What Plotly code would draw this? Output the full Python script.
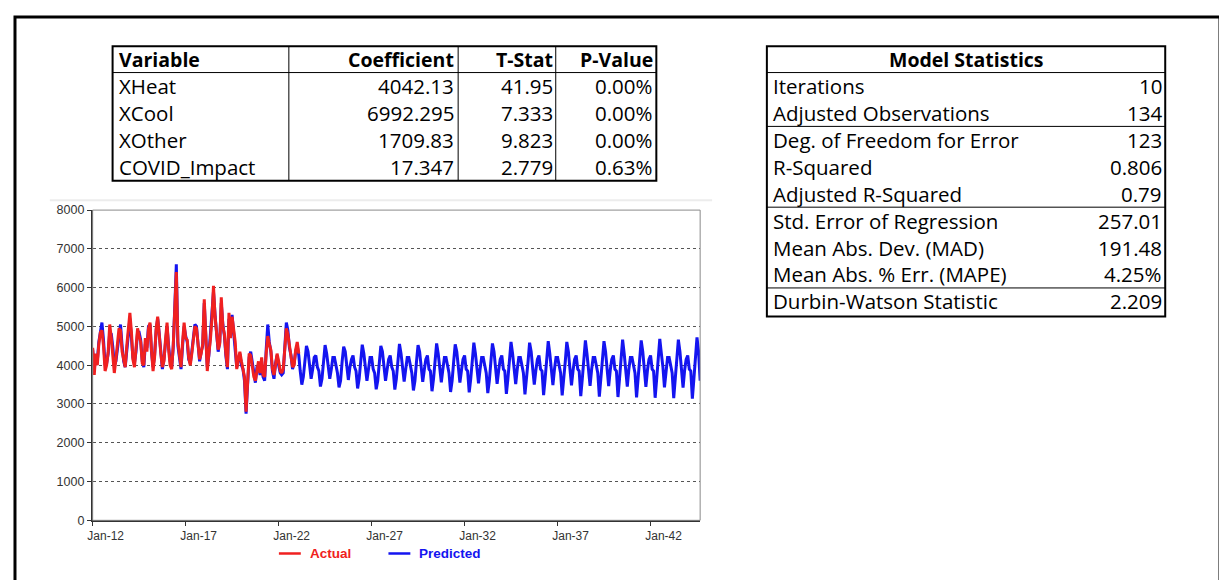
import pandas as pd
import plotly.graph_objects as go

# page body keeps an 8px margin, so the figure is that much smaller
PAGE_W, PAGE_H, BODY = 1227, 588, 8
W, H = PAGE_W - 2 * BODY, PAGE_H - 2 * BODY

# regression table
var_names = ["XHeat", "XCool", "XOther", "COVID_Impact"]
coefficients = ["4042.13", "6992.295", "1709.83", "17.347"]
t_stats = ["41.95", "7.333", "9.823", "2.779"]
p_values = ["0.00%", "0.00%", "0.00%", "0.63%"]

# model statistics table
stat_names = ["Iterations", "Adjusted Observations", "Deg. of Freedom for Error",
              "R-Squared", "Adjusted R-Squared", "Std. Error of Regression",
              "Mean Abs. Dev. (MAD)", "Mean Abs. % Err. (MAPE)", "Durbin-Watson Statistic"]
stat_values = ["10", "134", "123", "0.806", "0.79", "257.01", "191.48", "4.25%", "2.209"]

# monthly actuals, Jan-2012 .. Feb-2023
actual = [
    4450, 3750, 4300, 4000, 4550, 4850, 4900, 4500, 3850, 4000, 4350, 5050,
    4700, 4300, 3800, 4150, 4500, 4950, 4900, 4350, 4150, 3950, 4500, 4900,
    5350, 4850, 4150, 3950, 4400, 4950, 4750, 4600, 4050, 4000, 4700, 4350,
    4950, 5100, 4400, 3850, 4200, 4950, 5250, 4700, 4300, 3950, 4100, 4650,
    5100, 4400, 4000, 3900, 4500, 5450, 6400, 4600, 4300, 3950, 4600, 5100,
    4700, 4650, 4200, 4000, 4300, 4750, 5000, 4950, 4500, 4150, 4300, 4550,
    5700, 4800, 3850, 4300, 4650, 5200, 6050, 5250, 4900, 4400, 4550, 5750,
    5000, 4800, 4300, 3950, 5350, 4700, 5250, 4900, 4600, 3900, 4200, 4350,
    4100, 3850, 3700, 2800, 3450, 4300, 4250, 4000, 3700, 3600, 3900, 4100,
    3800, 4200, 3750, 3700, 4300, 4750, 4550, 4400, 3900, 3750, 4000, 4300,
    4100, 3850, 3800, 3900, 4400, 4950, 4800, 4500, 4300, 3950, 4000, 4400,
    4600, 4300,
]

# in-sample fitted values, Jan-2012 .. Feb-2023
predicted_fit = [
    4400, 3900, 4200, 4100, 4600, 4900, 5100, 4650, 4000, 4050, 4300, 4850,
    4800, 4450, 4000, 4100, 4400, 4850, 5050, 4500, 4100, 3950, 4400, 4950,
    5200, 4700, 4200, 4050, 4350, 4850, 4850, 4650, 4100, 3950, 4550, 4450,
    5000, 5050, 4350, 3950, 4250, 4900, 5200, 4800, 4250, 3900, 4150, 4600,
    5000, 4500, 4100, 3950, 4450, 5500, 6600, 4500, 4250, 3900, 4500, 5000,
    4750, 4600, 4150, 4050, 4350, 4800, 5050, 5000, 4450, 4100, 4350, 4500,
    5600, 4900, 3950, 4250, 4750, 5300, 5900, 5300, 4800, 4350, 4600, 5600,
    5050, 4750, 4250, 3900, 5200, 4750, 5300, 4850, 4550, 3950, 4150, 4300,
    4000, 3900, 3600, 2750, 3500, 4200, 4350, 4100, 3750, 3550, 3950, 4000,
    3750, 4100, 3700, 3600, 4400, 5050, 4600, 4350, 3850, 3650, 4050, 4250,
    4000, 3800, 3750, 3800, 4450, 5100, 4900, 4450, 4250, 3900, 4050, 4350,
    4500, 4250,
]

# forecast, Mar-2023 .. Sep-2044
forecast = [
    3850, 3500, 3700, 4150, 4500, 4350, 3950, 3650, 3900, 4200,
    4250, 3950, 3850, 3450, 3650, 4150, 4520, 4300, 3950, 3650, 3900, 4200,
    4200, 4000, 3800, 3430, 3600, 4100, 4480, 4350, 3900, 3620, 3950, 4150,
    4250, 3950, 3850, 3400, 3650, 4150, 4530, 4300, 3950, 3600, 3900, 4200,
    4200, 3900, 3800, 3380, 3600, 4100, 4500, 4350, 3900, 3600, 3880, 4150,
    4250, 3950, 3850, 3370, 3650, 4150, 4550, 4300, 3950, 3580, 3900, 4200,
    4200, 3950, 3800, 3350, 3600, 4100, 4520, 4350, 3900, 3570, 3880, 4150,
    4250, 3900, 3850, 3330, 3650, 4150, 4560, 4300, 3950, 3560, 3900, 4200,
    4200, 3950, 3800, 3310, 3600, 4100, 4540, 4350, 3900, 3550, 3870, 4150,
    4250, 3900, 3850, 3300, 3650, 4150, 4580, 4300, 3950, 3530, 3900, 4200,
    4200, 3950, 3800, 3280, 3600, 4100, 4560, 4350, 3900, 3520, 3870, 4150,
    4250, 3900, 3850, 3260, 3650, 4150, 4600, 4300, 3950, 3510, 3900, 4200,
    4200, 3950, 3800, 3250, 3600, 4100, 4580, 4350, 3900, 3500, 3870, 4150,
    4250, 3900, 3850, 3230, 3650, 4150, 4620, 4300, 3950, 3490, 3900, 4200,
    4200, 3950, 3800, 3220, 3600, 4100, 4600, 4350, 3900, 3480, 3870, 4150,
    4250, 3900, 3850, 3200, 3650, 4150, 4640, 4300, 3950, 3470, 3900, 4200,
    4200, 3950, 3800, 3190, 3600, 4100, 4620, 4350, 3900, 3460, 3870, 4150,
    4250, 3900, 3850, 3180, 3650, 4150, 4660, 4300, 3950, 3450, 3900, 4200,
    4200, 3950, 3800, 3170, 3600, 4100, 4640, 4350, 3900, 3440, 3870, 4150,
    4250, 3900, 3850, 3160, 3650, 4150, 4680, 4300, 3950, 3430, 3900, 4200,
    4200, 3950, 3800, 3150, 3600, 4100, 4660, 4350, 3900, 3420, 3870, 4150,
    4250, 3900, 3850, 3140, 3650, 4150, 4720, 4350, 3600,
]

predicted = predicted_fit + forecast
dates_actual = pd.date_range("2012-01-01", periods=len(actual), freq="MS")
dates_pred = pd.date_range("2012-01-01", periods=len(predicted), freq="MS")

TABLE_FONT = "Open Sans"
BODY_SIZE, HEAD_SIZE = 20.5, 19.5
RED, BLUE = "#f02020", "#1414f0"


def px(x):
    return (x - BODY) / W


def py(y):
    return 1 - (y - BODY) / H


fig = go.Figure()
fig.add_trace(go.Scatter(x=dates_pred, y=predicted, mode="lines", name="Predicted",
                         line=dict(color=BLUE, width=3), showlegend=False))
fig.add_trace(go.Scatter(x=dates_actual, y=actual, mode="lines", name="Actual",
                         line=dict(color=RED, width=3), showlegend=False))

shapes = []
annotations = []


def hline(x0, x1, y, width=1, color="black"):
    shapes.append(dict(type="line", xref="paper", yref="paper", x0=px(x0), x1=px(x1),
                       y0=py(y), y1=py(y), line=dict(color=color, width=width)))


def vline(x, y0, y1, width=1, color="black"):
    shapes.append(dict(type="line", xref="paper", yref="paper", x0=px(x), x1=px(x),
                       y0=py(y0), y1=py(y1), line=dict(color=color, width=width)))


def text(x, y, s, anchor="left", bold=False, size=BODY_SIZE, color="black", family=TABLE_FONT):
    if bold and size == BODY_SIZE:
        size = HEAD_SIZE
    annotations.append(dict(xref="paper", yref="paper", x=px(x), y=py(y),
                            text="<b>%s</b>" % s if bold else s, showarrow=False,
                            xanchor=anchor, yanchor="middle",
                            font=dict(family=family, size=size, color=color)))


# outer frame
shapes.append(dict(type="rect", xref="paper", yref="paper", x0=px(10), x1=px(1220),
                   y0=py(10), y1=py(640), line=dict(color="black", width=3)))

# regression table
t1_cols = [108, 285, 455, 553, 654]
t1_top, t1_head, t1_bot = 40, 67, 178
shapes.append(dict(type="rect", xref="paper", yref="paper", x0=px(108), x1=px(654),
                   y0=py(t1_top), y1=py(t1_bot), line=dict(color="black", width=2)))
for c in t1_cols[1:-1]:
    vline(c, t1_top, t1_bot)
hline(108, 654, t1_head)
row_h = 27.6
text(112, 54, "Variable", bold=True)
text(453, 54, "Coefficient", anchor="right", bold=True)
text(552, 54, "T-Stat", anchor="right", bold=True)
text(653, 54, "P-Value", anchor="right", bold=True)
for i, name in enumerate(var_names):
    yc = t1_head + row_h * (i + 0.5)
    text(112, yc, name)
    text(453, yc, coefficients[i], anchor="right")
    text(552, yc, t_stats[i], anchor="right")
    text(653, yc, p_values[i], anchor="right")

# model statistics table
t2_top, t2_head, t2_bot = 40, 67, 317
shapes.append(dict(type="rect", xref="paper", yref="paper", x0=px(765), x1=px(1165),
                   y0=py(t2_top), y1=py(t2_bot), line=dict(color="black", width=2)))
hline(765, 1165, t2_head)
for k in (2, 5, 8):
    hline(765, 1165, t2_head + row_h * k)
text(965, 54, "Model Statistics", anchor="center", bold=True)
for i, name in enumerate(stat_names):
    yc = t2_head + row_h * (i + 0.5)
    text(769, yc, name)
    text(1164, yc, stat_values[i], anchor="right")

# chart frame
hline(45, 710, 198, width=2, color="#ececec")
shapes.append(dict(type="rect", xref="paper", yref="paper", x0=px(88), x1=px(698),
                   y0=py(208), y1=py(526), line=dict(color="#8a8a8a", width=1)))

# legend
hline(275, 297, 560, width=2.5, color=RED)
text(304, 560, "Actual", bold=True, size=13.5, color=RED, family="Liberation Sans")
hline(385, 407, 560, width=2.5, color=BLUE)
text(414, 560, "Predicted", bold=True, size=13.5, color=BLUE, family="Liberation Sans")

fig.update_layout(
    width=W, height=H, autosize=False,
    margin=dict(l=0, r=0, t=0, b=0),
    paper_bgcolor="white", plot_bgcolor="white",
    shapes=shapes, annotations=annotations,
    xaxis=dict(domain=[px(88), px(698)], type="date",
               range=["2012-01-01", dates_pred[-1]],
               tick0="2012-01-01", dtick="M60", tickformat="%b-%y",
               ticks="outside", ticklen=4, tickcolor="#333",
               ticklabelshift=13, showgrid=False, zeroline=False,
               showline=True, linecolor="#333", linewidth=1.5,
               tickfont=dict(family="Liberation Sans", size=12, color="#333")),
    yaxis=dict(domain=[py(526), py(208)], range=[0, 8000], dtick=1000,
               ticks="outside", ticklen=4, tickcolor="#333",
               showgrid=True, gridcolor="#555", griddash="dot", gridwidth=1,
               zeroline=False, showline=True, linecolor="#333", linewidth=1.5,
               tickfont=dict(family="Liberation Sans", size=12.5, color="#333")),
)

fig.write_html("out.html")
